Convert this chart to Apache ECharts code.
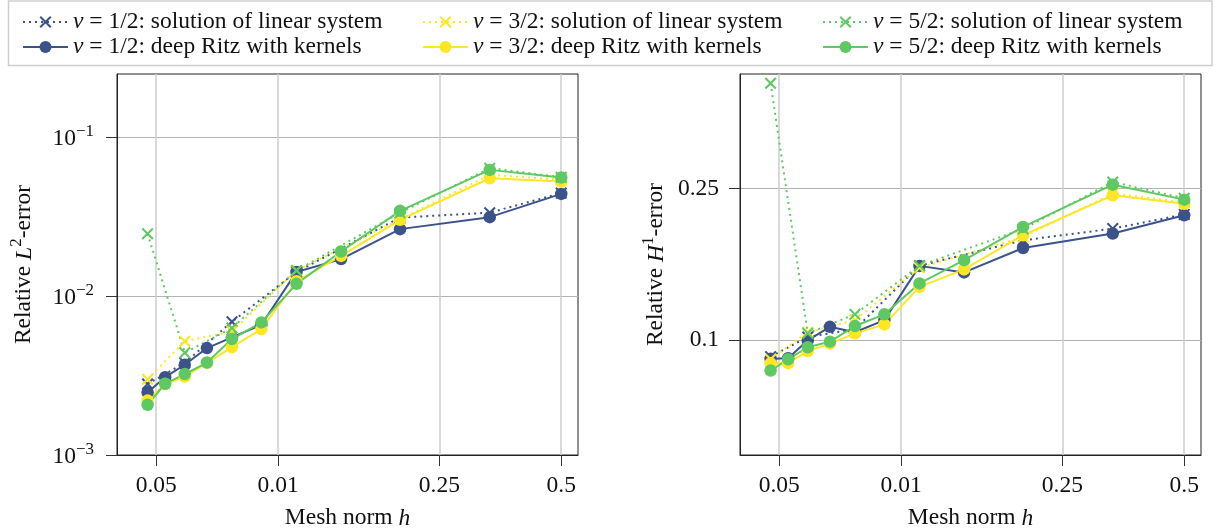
<!DOCTYPE html>
<html>
<head>
<meta charset="utf-8">
<script src="https://cdn.jsdelivr.net/npm/echarts@6/dist/echarts.min.js"></script>
<style>
  html, body { margin: 0; padding: 0; background: #fff; }
  #chart { width: 1220px; height: 532px; }
</style>
</head>
<body>
<div id="chart"></div>
<script>
// Mesh norms h: kernel (deep Ritz) runs and linear-system solves
const hRitz   = [0.00476, 0.00526, 0.00588, 0.00667, 0.00769, 0.00909, 0.0111, 0.0143, 0.02, 0.0333, 0.05];
const hLinear = [0.00476, 0.00588, 0.00769, 0.0111, 0.02, 0.0333, 0.05];

// Relative L2 errors
const l2LinearNu1 = [0.0028, 0.0038, 0.0069, 0.0142, 0.0312, 0.0335, 0.0445];
const l2LinearNu3 = [0.0030, 0.0052, 0.0060, 0.0145, 0.0305, 0.0580, 0.0540];
const l2LinearNu5 = [0.0247, 0.0044, 0.0063, 0.0145, 0.0335, 0.0638, 0.0560];
const l2RitzNu1 = [0.00248, 0.00309, 0.00370, 0.00471, 0.0055, 0.0066, 0.0142, 0.0171, 0.0264, 0.0314, 0.0440];
const l2RitzNu3 = [0.0022, 0.0028, 0.00312, 0.0038, 0.00478, 0.0062, 0.0124, 0.0179, 0.0302, 0.0552, 0.0526];
const l2RitzNu5 = [0.00207, 0.00281, 0.00323, 0.00382, 0.00537, 0.00683, 0.01195, 0.0191, 0.0344, 0.0623, 0.0557];

// Relative H1 errors
const h1LinearNu1 = [0.0906, 0.102, 0.107, 0.157, 0.183, 0.1964, 0.214];
const h1LinearNu3 = [0.0892, 0.105, 0.113, 0.155, 0.1866, 0.2428, 0.230];
const h1LinearNu5 = [0.4727, 0.1043, 0.117, 0.157, 0.196, 0.2603, 0.236];
const h1RitzNu1 = [0.0894, 0.0897, 0.100, 0.1085, 0.105, 0.113, 0.1568, 0.1507, 0.1747, 0.1906, 0.2129];
const h1RitzNu3 = [0.087, 0.0871, 0.0937, 0.098, 0.1043, 0.1101, 0.1381, 0.1535, 0.1887, 0.2402, 0.2284];
const h1RitzNu5 = [0.0833, 0.0892, 0.0959, 0.0992, 0.109, 0.117, 0.141, 0.1623, 0.1984, 0.2561, 0.2340];

// Tick positions and their printed labels
const xTickValues = [0.005, 0.01, 0.025, 0.05];
const xTickLabels = ['0.05', '0.01', '0.25', '0.5'];
const l2TickValues = [0.001, 0.01, 0.1];
const l2TickExponents = ['\u22123', '\u22122', '\u22121'];
const h1TickValues = [0.1, 0.25];
const h1TickLabels = ['0.1', '0.25'];

const nuLabels = ['1/2', '3/2', '5/2'];
const colors = ['#3b528b', '#fde725', '#5ec962'];

const FONT = 'Liberation Serif';
const FS = 23.5;
const SUP = 17;
const TEXT = '#111';
const crossPath = 'path://M0,1.2L1.2,0L5,3.8L8.8,0L10,1.2L6.2,5L10,8.8L8.8,10L5,6.2L1.2,10L0,8.8L3.8,5Z';

const linearName = nu => '\u03bd = ' + nu + ': solution of linear system';
const ritzName = nu => '\u03bd = ' + nu + ': deep Ritz with kernels';

function pairs(xs, ys) { return xs.map((x, i) => [x, ys[i]]); }
function nearest(arr, v) {
  let best = 0, d = Infinity;
  arr.forEach((a, i) => { const e = Math.abs(Math.log(a) - Math.log(v)); if (e < d) { d = e; best = i; } });
  return best;
}

const richBase = {
  t: { fontFamily: FONT, fontSize: FS, color: TEXT, lineHeight: 28, verticalAlign: 'bottom' },
  i: { fontFamily: FONT, fontSize: FS, fontStyle: 'italic', color: TEXT, lineHeight: 28, verticalAlign: 'bottom' },
  s: { fontFamily: FONT, fontSize: SUP, color: TEXT, lineHeight: 16, verticalAlign: 'top' }
};

function panelSeries(idx, linearSets, ritzSets) {
  const out = [];
  for (let k = 0; k < 3; k++) {
    out.push({
      type: 'line', name: linearName(nuLabels[k]), xAxisIndex: idx, yAxisIndex: idx,
      data: pairs(hLinear, linearSets[k]),
      symbol: crossPath, symbolSize: 12, showSymbol: true,
      lineStyle: { color: colors[k], width: 2, type: [2, 4] },
      itemStyle: { color: colors[k] },
      emphasis: { disabled: true }
    });
    out.push({
      type: 'line', name: ritzName(nuLabels[k]), xAxisIndex: idx, yAxisIndex: idx,
      data: pairs(hRitz, ritzSets[k]),
      symbol: 'circle', symbolSize: 12.5, showSymbol: true,
      lineStyle: { color: colors[k], width: 2, type: 'solid' },
      itemStyle: { color: colors[k] },
      emphasis: { disabled: true }
    });
  }
  return out;
}

function xAxisCfg(gridIndex) {
  return {
    type: 'log', logBase: 10, gridIndex, min: 0.004, max: 0.055,
    name: '{t|Mesh norm }{i|h}', nameLocation: 'middle', nameGap: 47,
    nameTextStyle: { rich: richBase },
    axisLine: { show: true, lineStyle: { color: '#222', width: 1 } },
    axisTick: { show: true, customValues: xTickValues, length: 11, lineStyle: { color: '#333', width: 1 } },
    axisLabel: {
      customValues: xTickValues, margin: 19, fontFamily: FONT, fontSize: FS, color: TEXT,
      formatter: v => xTickLabels[nearest(xTickValues, v)]
    },
    splitLine: { show: true, lineStyle: { color: '#cccccc', width: 1.5 } },
    minorTick: { show: false }, minorSplitLine: { show: false }
  };
}

const gridCommon = {
  top: 74, width: 461, height: 381, show: true,
  borderColor: '#222', borderWidth: 1, backgroundColor: 'transparent',
  containLabel: false, outerBoundsMode: 'none'
};

const option = {
  animation: false,
  backgroundColor: '#fff',
  graphic: [{
    type: 'rect', z: -1,
    shape: { x: 8.5, y: 1, width: 1203.5, height: 64.5 },
    style: { fill: '#fff', stroke: '#cfcfcf', lineWidth: 1.5 }
  }],
  legend: [0, 1, 2].map(k => ({
    orient: 'vertical', left: 17 + 400 * k, top: 5,
    itemWidth: 45, itemHeight: 15, itemGap: 1, selectedMode: false,
    data: [linearName(nuLabels[k]), ritzName(nuLabels[k])],
    formatter: name => '{i|\u03bd}{t|' + name.slice(1) + '}',
    textStyle: {
      fontFamily: FONT, fontSize: FS, color: TEXT, lineHeight: 23,
      rich: {
        i: { fontFamily: FONT, fontSize: FS, fontStyle: 'italic', color: TEXT, lineHeight: 23 },
        t: { fontFamily: FONT, fontSize: FS, color: TEXT, lineHeight: 23 }
      }
    }
  })),
  grid: [
    Object.assign({ left: 117 }, gridCommon),
    Object.assign({ left: 740 }, gridCommon)
  ],
  xAxis: [xAxisCfg(0), xAxisCfg(1)],
  yAxis: [
    {
      type: 'log', logBase: 10, gridIndex: 0, min: 0.001, max: 0.25,
      name: '{t|Relative }{i|L}{s|2}{t|-error}', nameLocation: 'middle', nameGap: 81,
      nameTextStyle: { rich: richBase },
      axisLine: { show: true, lineStyle: { color: '#222', width: 1 } },
      axisTick: { show: true, customValues: l2TickValues, length: 11, lineStyle: { color: '#333', width: 1 } },
      axisLabel: {
        customValues: l2TickValues, margin: 23,
        formatter: v => '{b|10}{s|' + l2TickExponents[nearest(l2TickValues, v)] + '}',
        rich: {
          b: { fontFamily: FONT, fontSize: FS, color: TEXT, lineHeight: 28, verticalAlign: 'bottom' },
          s: { fontFamily: FONT, fontSize: SUP, color: TEXT, lineHeight: 16, verticalAlign: 'top' }
        }
      },
      splitLine: { show: true, lineStyle: { color: '#b4b4b4', width: 1 } },
      minorTick: { show: false }, minorSplitLine: { show: false }
    },
    {
      type: 'log', logBase: 10, gridIndex: 1, min: 0.05, max: 0.5,
      name: '{t|Relative }{i|H}{s|1}{t|-error}', nameLocation: 'middle', nameGap: 72,
      nameTextStyle: { rich: richBase },
      axisLine: { show: true, lineStyle: { color: '#222', width: 1 } },
      axisTick: { show: true, customValues: h1TickValues, length: 11, lineStyle: { color: '#333', width: 1 } },
      axisLabel: {
        customValues: h1TickValues, margin: 21, fontFamily: FONT, fontSize: FS, color: TEXT,
        formatter: v => h1TickLabels[nearest(h1TickValues, v)]
      },
      splitLine: { show: true, lineStyle: { color: '#b4b4b4', width: 1 } },
      minorTick: { show: false }, minorSplitLine: { show: false }
    }
  ],
  series: [
    ...panelSeries(0, [l2LinearNu1, l2LinearNu3, l2LinearNu5], [l2RitzNu1, l2RitzNu3, l2RitzNu5]),
    ...panelSeries(1, [h1LinearNu1, h1LinearNu3, h1LinearNu5], [h1RitzNu1, h1RitzNu3, h1RitzNu5])
  ]
};

const chart = echarts.init(document.getElementById('chart'), null, { renderer: 'canvas' });
chart.setOption(option);
</script>
</body>
</html>
